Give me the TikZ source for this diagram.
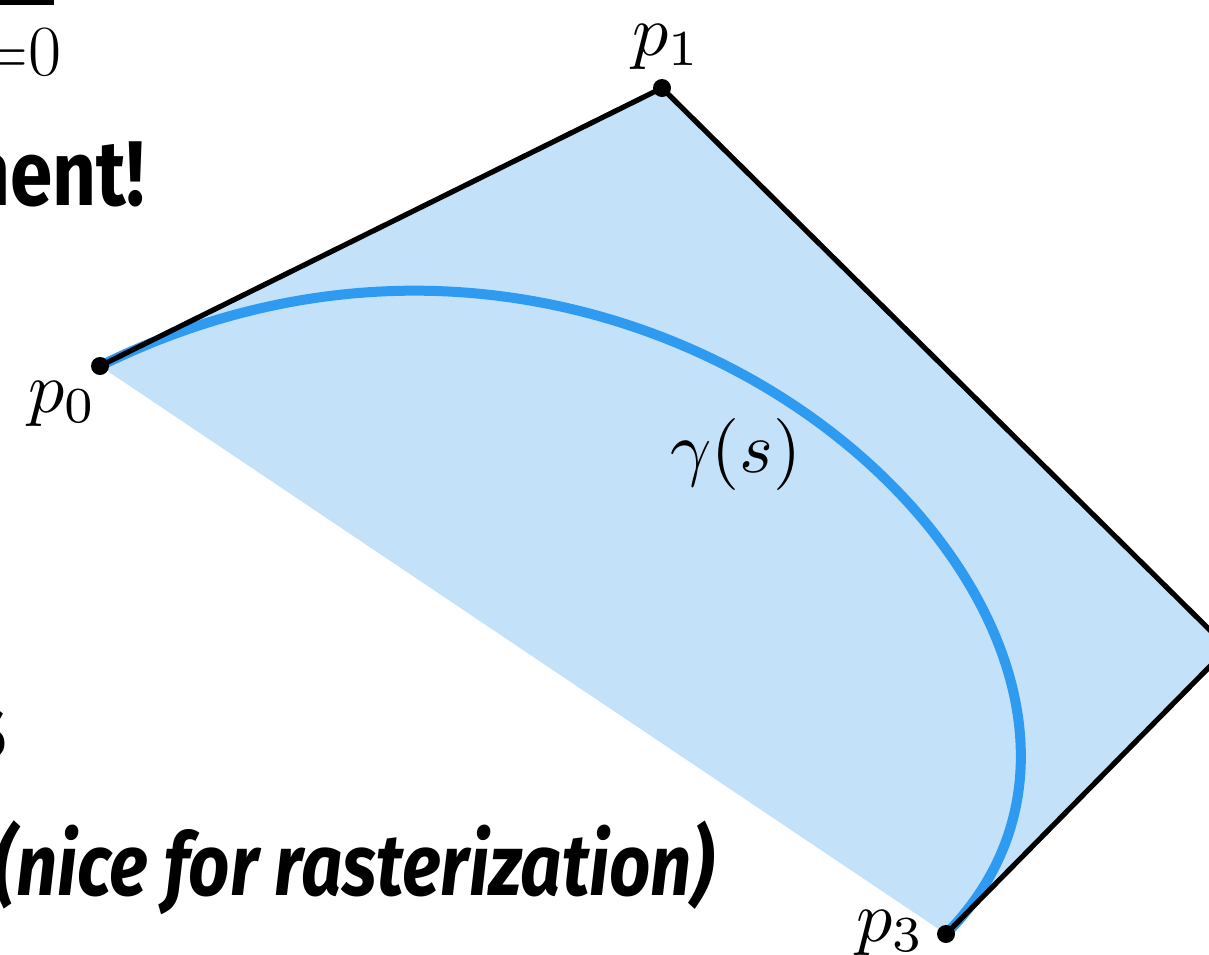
\documentclass[tikz,border=0pt]{standalone}
\usepackage{fontspec}
\newfontfamily\condfont[FakeStretch=0.83]{Fira Sans}
\definecolor{hullblue}{HTML}{C4E1FA}
\definecolor{curveblue}{HTML}{2E9BF0}
\newcommand{\bigmath}[1]{\scalebox{3.6}{$#1$}}
\begin{document}
\begin{tikzpicture}[x=0.5pt,y=-0.5pt,
  hull/.style={fill=hullblue},
  edge/.style={draw=black,line width=2.6pt,line cap=round,line join=round},
  curve/.style={draw=curveblue,line width=5pt},
  dot/.style={circle,fill=black,inner sep=0pt,minimum size=9pt},
  mlabel/.style={inner sep=0pt},
  boldtext/.style={inner sep=0pt,font=\condfont\bfseries\fontsize{46}{52}\selectfont},
  bolditext/.style={inner sep=0pt,font=\condfont\bfseries\itshape\fontsize{43.5}{50}\selectfont},
  bar/.style={fill=black}]
\useasboundingbox (0,0) rectangle (1209,954);
\clip (0,0) rectangle (1209,954);
\coordinate (p0) at (100,366);
\coordinate (p1) at (662,88);
\coordinate (p2) at (1228,648);
\coordinate (p3) at (946,934);
\fill[hull] (p0) -- (p1) -- (p2) -- (p3) -- cycle;
\draw[curve] (p0) .. controls (p1) and (p2) .. (p3);
\draw[edge] (p0) -- (p1) -- (p2) -- (p3);
\node[dot] (d0) at (p0) {};
\node[dot] (d1) at (p1) {};
\node[dot] (d3) at (p3) {};
\node[mlabel,anchor=base west] (l0) at (28,412) {\bigmath{p_0}};
\node[mlabel,anchor=base west] (l1) at (632,55) {\bigmath{p_1}};
\node[mlabel,anchor=base west] (l3) at (856,941) {\bigmath{p_3}};
\node[mlabel,anchor=base west] (lg) at (670,472) {\bigmath{\gamma(s)}};
\node[mlabel,anchor=base west,font=\fontsize{36}{40}\selectfont] (eq) at (-24,75) {=0};
\fill[bar] (0,0) rectangle (54,5);
\node[boldtext,anchor=base west] (t1) at (-34,205) {nent!};
\node[boldtext,anchor=base east] (t2) at (7,758) {s};
\node[bolditext,anchor=base west] (t3) at (-7,895) {(nice for rasterization)};
\end{tikzpicture}
\end{document}
